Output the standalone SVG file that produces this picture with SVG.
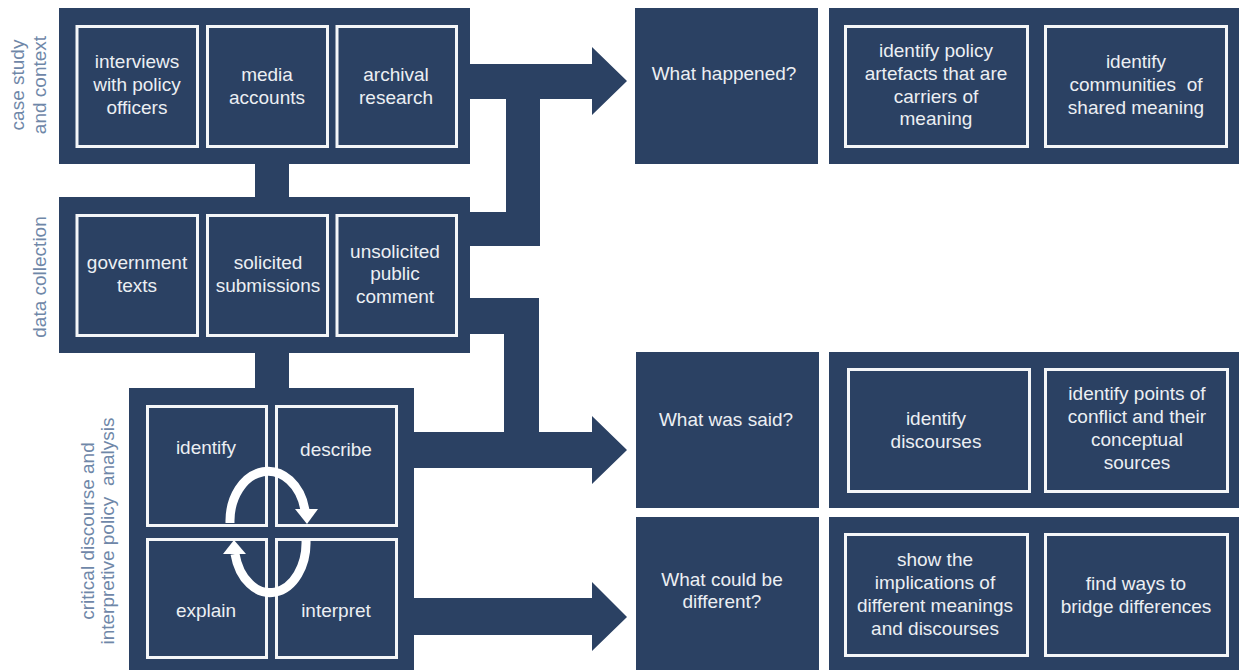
<svg xmlns="http://www.w3.org/2000/svg" width="1239" height="670" viewBox="0 0 1239 670">
<style>
.panel{fill:#2b4163;}
.cell{fill:#2b4163;stroke:#f4f6f8;stroke-width:3;}
.t{font-family:"Liberation Sans",Arial,sans-serif;font-size:19px;fill:#eceff3;text-anchor:middle;white-space:pre;}
.lbl{font-family:"Liberation Sans",Arial,sans-serif;font-size:19px;fill:#6f87a8;text-anchor:middle;white-space:pre;}
.conn{fill:#2b4163;}
.cyc{fill:none;stroke:#ffffff;stroke-width:9;}
.cychead{fill:#ffffff;}
</style>
<rect width="1239" height="670" fill="#ffffff"/>

<g id="connectors">
  <rect class="conn" x="255" y="163" width="34" height="35"/>
  <rect class="conn" x="255" y="352" width="34" height="37"/>
  <path class="conn" d="M469,64 H592 V47 L627,81 L592,115 V99 H540 V246 H469 V212 H506 V99 H469 Z"/>
  <path class="conn" d="M469,298 H539 V432 H592 V416 L627,450 L592,484 V468 H413 V432 H504 V334 H469 Z"/>
  <path class="conn" d="M413,598 H592 V582 L627,617 L592,651 V635 H413 Z"/>
</g>

<g id="case-study">
  <rect class="panel" x="59" y="8" width="411" height="156"/>
  <text class="lbl" transform="translate(24,85) rotate(-90)">case study</text>
  <text class="lbl" transform="translate(46,85) rotate(-90)">and context</text>
  <g id="interviews">
    <rect class="cell" x="77" y="26.5" width="120.5" height="120"/>
    <text class="t" x="137" y="68">interviews</text>
    <text class="t" x="137" y="91">with policy</text>
    <text class="t" x="137" y="114">officers</text>
  </g>
  <g id="media">
    <rect class="cell" x="207.5" y="26.5" width="120" height="120"/>
    <text class="t" x="267" y="81">media</text>
    <text class="t" x="267" y="104">accounts</text>
  </g>
  <g id="archival">
    <rect class="cell" x="337" y="26.5" width="119.5" height="120"/>
    <text class="t" x="396" y="81">archival</text>
    <text class="t" x="396" y="104">research</text>
  </g>
</g>

<g id="data-collection">
  <rect class="panel" x="59" y="197" width="411" height="156"/>
  <text class="lbl" transform="translate(46,277) rotate(-90)">data collection</text>
  <g id="government">
    <rect class="cell" x="77" y="215.5" width="120.5" height="120"/>
    <text class="t" x="137" y="269">government</text>
    <text class="t" x="137" y="292">texts</text>
  </g>
  <g id="solicited">
    <rect class="cell" x="207.5" y="215.5" width="120" height="120"/>
    <text class="t" x="268" y="269">solicited</text>
    <text class="t" x="268" y="292">submissions</text>
  </g>
  <g id="unsolicited">
    <rect class="cell" x="337" y="215.5" width="119.5" height="120"/>
    <text class="t" x="395" y="258">unsolicited</text>
    <text class="t" x="395" y="280">public</text>
    <text class="t" x="395" y="303">comment</text>
  </g>
</g>

<g id="analysis">
  <rect class="panel" x="129" y="388" width="285" height="282"/>
  <text class="lbl" transform="translate(94,531) rotate(-90)">critical discourse and</text>
  <text class="lbl" transform="translate(114,531) rotate(-90)" xml:space="preserve">interpretive policy  analysis</text>
  <g id="identify">
    <rect class="cell" x="147.5" y="406.5" width="119" height="119"/>
    <text class="t" x="206" y="454">identify</text>
  </g>
  <g id="describe">
    <rect class="cell" x="276.5" y="406.5" width="120" height="119"/>
    <text class="t" x="336" y="456">describe</text>
  </g>
  <g id="explain">
    <rect class="cell" x="147.5" y="539.5" width="119" height="118"/>
    <text class="t" x="206" y="617">explain</text>
  </g>
  <g id="interpret">
    <rect class="cell" x="276.5" y="539.5" width="120" height="118"/>
    <text class="t" x="336" y="617">interpret</text>
  </g>
  <g id="cycle">
    <path class="cyc" d="M230,523 A38,50 0 0 1 305,510"/>
    <polygon class="cychead" points="295,509 318,509 307,524"/>
    <path class="cyc" d="M306,540 A36,50 0 0 1 235,554"/>
    <polygon class="cychead" points="223,554 246,554 234,540"/>
  </g>
</g>

<g id="q-happened">
  <rect class="panel" x="635" y="8" width="183" height="156"/>
  <text class="t" x="724" y="80">What happened?</text>
</g>
<g id="r-happened">
  <rect class="panel" x="829" y="8" width="410" height="156"/>
  <g id="artefacts">
    <rect class="cell" x="845.5" y="26.5" width="182" height="120"/>
    <text class="t" x="936" y="57">identify policy</text>
    <text class="t" x="936" y="80">artefacts that are</text>
    <text class="t" x="936" y="103">carriers of</text>
    <text class="t" x="936" y="125">meaning</text>
  </g>
  <g id="communities">
    <rect class="cell" x="1045.5" y="26.5" width="181" height="120"/>
    <text class="t" x="1136" y="68">identify</text>
    <text class="t" x="1136" y="91" xml:space="preserve">communities  of</text>
    <text class="t" x="1136" y="114">shared meaning</text>
  </g>
</g>

<g id="q-said">
  <rect class="panel" x="636" y="352" width="183" height="156"/>
  <text class="t" x="726" y="426">What was said?</text>
</g>
<g id="r-said">
  <rect class="panel" x="829" y="352" width="410" height="156"/>
  <g id="discourses">
    <rect class="cell" x="848.5" y="369.5" width="181" height="122"/>
    <text class="t" x="936" y="425">identify</text>
    <text class="t" x="936" y="448">discourses</text>
  </g>
  <g id="conflict">
    <rect class="cell" x="1045.5" y="369.5" width="182" height="122"/>
    <text class="t" x="1137" y="400">identify points of</text>
    <text class="t" x="1137" y="423">conflict and their</text>
    <text class="t" x="1137" y="446">conceptual</text>
    <text class="t" x="1137" y="469">sources</text>
  </g>
</g>

<g id="q-different">
  <rect class="panel" x="636" y="517" width="183" height="153"/>
  <text class="t" x="722" y="586">What could be</text>
  <text class="t" x="722" y="608">different?</text>
</g>
<g id="r-different">
  <rect class="panel" x="829" y="517" width="410" height="153"/>
  <g id="implications">
    <rect class="cell" x="845.5" y="534.5" width="182" height="121"/>
    <text class="t" x="935" y="566">show the</text>
    <text class="t" x="935" y="589">implications of</text>
    <text class="t" x="935" y="612">different meanings</text>
    <text class="t" x="935" y="635">and discourses</text>
  </g>
  <g id="bridge">
    <rect class="cell" x="1045.5" y="534.5" width="182" height="121"/>
    <text class="t" x="1136" y="590">find ways to</text>
    <text class="t" x="1136" y="613">bridge differences</text>
  </g>
</g>
</svg>
